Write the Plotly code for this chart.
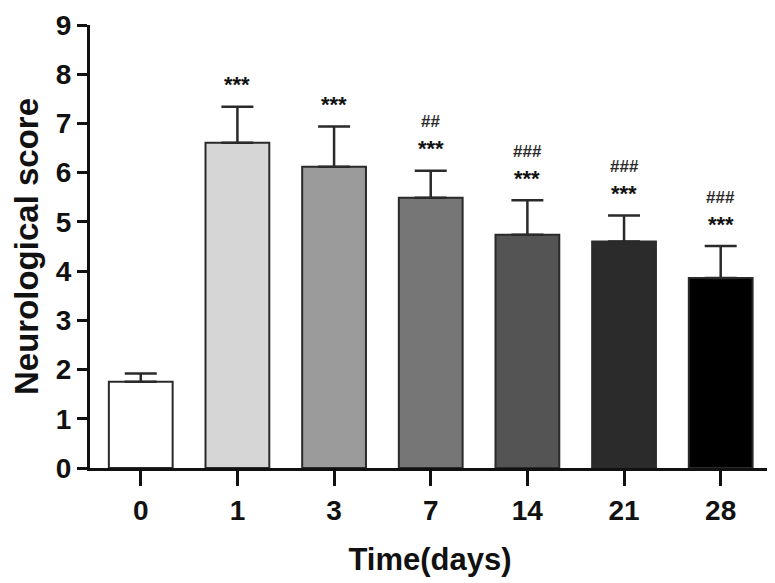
import plotly.graph_objects as go

days = ["0", "1", "3", "7", "14", "21", "28"]
score = [1.75, 6.61, 6.12, 5.49, 4.74, 4.60, 3.86]
sem = [0.17, 0.73, 0.82, 0.55, 0.70, 0.53, 0.65]
stars = ["", "***", "***", "***", "***", "***", "***"]
hashes = ["", "", "", "##", "###", "###", "###"]
fills = ["#ffffff", "#d6d6d6", "#9b9b9b", "#767676", "#545454", "#2b2b2b", "#000000"]

FONT = "Liberation Sans, Arial, sans-serif"

fig = go.Figure()
fig.add_trace(go.Bar(
    x=days, y=score, width=0.66,
    marker=dict(color=fills, line=dict(color="#2a2a2a", width=2)),
    error_y=dict(type="data", symmetric=False, array=sem,
                 arrayminus=[0] * len(sem),
                 color="#2a2a2a", thickness=2.5, width=16),
))

# significance marks above the error bars (x given as category index)
for i, (m, e, s, h) in enumerate(zip(score, sem, stars, hashes)):
    if s:
        fig.add_annotation(x=i, y=m + e, text="<b>" + s + "</b>", showarrow=False,
                           yanchor="middle", yshift=22,
                           font=dict(family=FONT, size=22, color="#111"))
    if h:
        fig.add_annotation(x=i, y=m + e, text="<b>" + h + "</b>", showarrow=False,
                           yanchor="middle", yshift=49,
                           font=dict(family=FONT, size=17, color="#2a2a2a"))

axis_font = dict(family=FONT, size=28, color="#111")
fig.update_layout(
    width=775, height=583,
    margin=dict(l=82, r=13, t=17, b=123),
    plot_bgcolor="white", paper_bgcolor="white",
    showlegend=False,
    font=dict(family=FONT),
)
fig.update_xaxes(
    type="category", range=[-0.525, 6.51],
    showline=True, linecolor="#111", linewidth=3,
    ticks="outside", ticklen=15, tickwidth=3, tickcolor="#111",
    tickfont=axis_font,
    tickprefix="<b>", ticksuffix="</b>",
    automargin=False,
    title=dict(text="<b>Time(days)</b>", font=dict(family=FONT, size=31, color="#111"), standoff=24),
)
fig.update_yaxes(
    range=[0, 9], dtick=1,
    showline=True, linecolor="#111", linewidth=3,
    ticks="outside", ticklen=10, tickwidth=3, tickcolor="#111",
    tickfont=axis_font,
    tickprefix="<b>", ticksuffix="</b>",
    ticklabeloverflow="allow",
    showgrid=False, zeroline=False,
    automargin=False,
    title=dict(text="<b>Neurological score</b>", font=dict(family=FONT, size=33, color="#111"), standoff=8),
)

fig.write_html("out.html")
